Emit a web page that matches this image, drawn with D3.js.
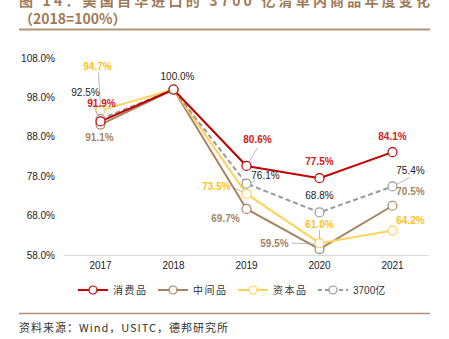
<!DOCTYPE html>
<html>
<head>
<meta charset="utf-8">
<script src="https://cdn.jsdelivr.net/npm/d3@7"></script>
<style>
  body { margin: 0; background: #fff; }
  svg { display: block; }
</style>
</head>
<body>
<div id="chart"></div>
<script>
var width = 449,
    height = 339,
    margin = {top: 58, bottom: 84, left: 64, right: 20};

// data
var years = ["2017", "2018", "2019", "2020", "2021"];
var seriesNames = ["消费品", "中间品", "资本品", "3700亿"];
var consumer = [91.9, 100.0, 80.6, 77.5, 84.1];
var intermediate = [91.1, 100.0, 69.7, 59.5, 70.5];
var capital = [94.7, 100.0, 73.5, 61.0, 64.2];
var total = [92.5, 100.0, 76.1, 68.8, 75.4];
var yTicks = [58, 68, 78, 88, 98, 108];

var colors = {"消费品": "#C00000", "中间品": "#A68462", "资本品": "#FFD25E", "3700亿": "#9A9A9A"};
var labelColors = {"消费品": "#D02020", "中间品": "#A68462", "资本品": "#FFC21A", "3700亿": "#222"};

var series = [
  {name: "中间品", values: intermediate},
  {name: "资本品", values: capital},
  {name: "3700亿", values: total, dash: "5,3"},
  {name: "消费品", values: consumer}
];

// label offsets (dx, dy from point), index by year; null = no label
var labelPos = {
  "消费品": [[1, -18], null, [11, -26], [0, -17], [0, -16]],
  "中间品": [[-1, 13], null, [-21, 10], [-45, -6], [18, -14]],
  "资本品": [[-3, -44], null, [-30, -7], [0, -19], [18, -10]],
  "3700亿": [[-15, -27], [4, -13], [19, -8], [0, -17], [18, -16]]
};
var leaders = {
  "资本品": {0: [[0, -3], [-2, -38]], 2: [[-4, -2], [-12, -6]], 3: [[0, -5], [0, -13]]},
  "3700亿": {0: [[-3, -4], [-10, -22]], 2: [[4, 0], [9, -4]], 4: [[4, -2], [17, -9]]},
  "消费品": {2: [[3, -5], [11, -18]]},
  "中间品": {3: [[-5, -5], [-28, -6]]}
};

var svg = d3.select("#chart").append("svg")
  .attr("width", width)
  .attr("height", height)
  .style("font-family", "'Liberation Sans', Arial, sans-serif");

// title
var brown = "#A07A58";
svg.append("text")
  .attr("x", 19).attr("y", 6)
  .attr("textLength", 411).attr("lengthAdjust", "spacing")
  .style("font-family", "'Noto Sans CJK SC', sans-serif")
  .style("font-size", "14px").style("font-weight", "bold")
  .attr("fill", brown)
  .text("图 14：美国自华进口的 3700 亿清单内商品年度变化");
svg.append("text")
  .attr("x", 19).attr("y", 24)
  .style("font-family", "'Noto Sans CJK SC', sans-serif")
  .style("font-size", "14px").style("font-weight", "bold")
  .attr("fill", brown)
  .text("（2018=100%）");
svg.append("line")
  .attr("x1", 19).attr("x2", 430).attr("y1", 29.5).attr("y2", 29.5)
  .attr("stroke", "#B39476").attr("stroke-width", 2);

var x = d3.scalePoint()
  .domain(years)
  .range([margin.left, width - margin.right])
  .padding(0.5);

var y = d3.scaleLinear()
  .domain([58, 108])
  .range([height - margin.bottom, margin.top]);

// y axis labels
svg.append("g")
  .selectAll("text")
  .data(yTicks)
  .enter()
  .append("text")
  .attr("x", 55)
  .attr("y", function(d) { return y(d) + 3.5; })
  .attr("text-anchor", "end")
  .style("font-size", "10px")
  .attr("fill", "#222")
  .text(function(d) { return d.toFixed(1) + "%"; });

// x axis
svg.append("line")
  .attr("x1", margin.left).attr("x2", width - margin.right)
  .attr("y1", y(58) + 0.5).attr("y2", y(58) + 0.5)
  .attr("stroke", "#D9D9D9");

svg.append("g")
  .selectAll("text")
  .data(years)
  .enter()
  .append("text")
  .attr("x", function(d) { return x(d); })
  .attr("y", y(58) + 14)
  .attr("text-anchor", "middle")
  .style("font-size", "10px")
  .attr("fill", "#222")
  .text(function(d) { return d; });

var line = d3.line()
  .x(function(d, i) { return x(years[i]); })
  .y(function(d) { return y(d); });

// lines
series.forEach(function(s) {
  svg.append("path")
    .datum(s.values)
    .attr("d", line)
    .attr("fill", "none")
    .attr("stroke", colors[s.name])
    .attr("stroke-width", 2)
    .attr("stroke-dasharray", s.dash || null);
});

// markers
series.forEach(function(s) {
  svg.append("g")
    .selectAll("circle")
    .data(s.values)
    .enter()
    .append("circle")
    .attr("cx", function(d, i) { return x(years[i]); })
    .attr("cy", function(d) { return y(d); })
    .attr("r", 4.5)
    .attr("fill", "#fff")
    .attr("stroke", colors[s.name])
    .attr("stroke-width", 1.2);
});

// leader lines
Object.keys(leaders).forEach(function(name) {
  var s = series.find(function(d) { return d.name == name; });
  Object.keys(leaders[name]).forEach(function(i) {
    var p = leaders[name][i];
    var px = x(years[i]), py = y(s.values[i]);
    svg.append("line")
      .attr("x1", px + p[0][0]).attr("y1", py + p[0][1])
      .attr("x2", px + p[1][0]).attr("y2", py + p[1][1])
      .attr("stroke", "#A6A6A6")
      .attr("stroke-width", 0.8);
  });
});

// data labels
series.forEach(function(s) {
  var pts = s.values.map(function(v, i) { return {v: v, i: i, off: labelPos[s.name][i]}; })
    .filter(function(d) { return d.off; });
  svg.append("g")
    .selectAll("text")
    .data(pts)
    .enter()
    .append("text")
    .attr("x", function(d) { return x(years[d.i]) + d.off[0]; })
    .attr("y", function(d) { return y(d.v) + d.off[1] + 3.5; })
    .attr("text-anchor", "middle")
    .style("font-size", "10px")
    .style("font-weight", s.name == "3700亿" ? "normal" : "bold")
    .attr("fill", labelColors[s.name])
    .text(function(d) { return d.v.toFixed(1) + "%"; });
});

// legend
var legendX = [78, 158, 238, 318];
var legend = svg.append("g")
  .selectAll("g")
  .data(seriesNames)
  .enter()
  .append("g")
  .attr("transform", function(d, i) { return "translate(" + legendX[i] + ",290)"; });

legend.append("line")
  .attr("x1", 0).attr("x2", 30)
  .attr("stroke", function(d) { return colors[d]; })
  .attr("stroke-width", 2)
  .attr("stroke-dasharray", function(d) { return d == "3700亿" ? "4,3" : null; });
legend.append("circle")
  .attr("cx", 15).attr("r", 4)
  .attr("fill", "#fff")
  .attr("stroke", function(d) { return colors[d]; })
  .attr("stroke-width", 1.2);
legend.append("text")
  .attr("x", 35).attr("y", 4)
  .style("font-family", function(d) { return d == "3700亿" ? "'Liberation Sans', 'Noto Sans CJK SC', sans-serif" : "'Noto Sans CJK SC', sans-serif"; })
  .style("font-size", "10px")
  .style("letter-spacing", function(d) { return d == "3700亿" ? "0px" : "1.5px"; })
  .attr("fill", "#333")
  .text(function(d) { return d; });

// bottom rule and source
svg.append("line")
  .attr("x1", 19).attr("x2", 430).attr("y1", 313.5).attr("y2", 313.5)
  .attr("stroke", "#B39476").attr("stroke-width", 1.5);
svg.append("text")
  .attr("x", 19).attr("y", 332)
  .style("font-family", "'Noto Sans CJK SC', sans-serif")
  .style("font-size", "11px")
  .style("letter-spacing", "1px")
  .attr("fill", "#333")
  .text("资料来源：Wind，USITC，德邦研究所");
</script>
</body>
</html>
